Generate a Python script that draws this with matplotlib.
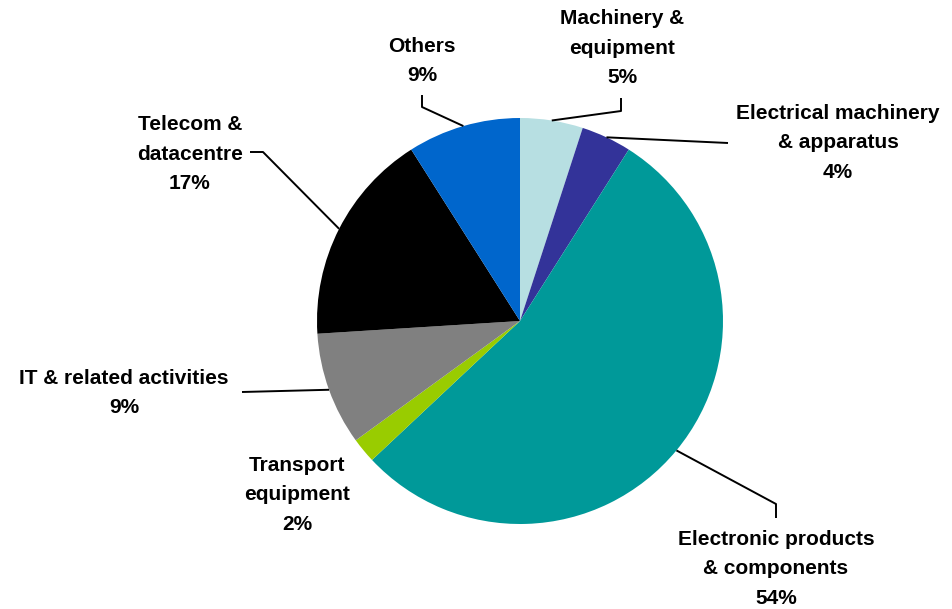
import numpy as np
import matplotlib
matplotlib.use("Agg")
import matplotlib.pyplot as plt

plt.rcParams['font.family'] = ['Liberation Sans', 'DejaVu Sans']

# Sector shares (%), clockwise from 12 o'clock
categories = ["Machinery &\nequipment", "Electrical machinery\n& apparatus",
              "Electronic products\n& components", "Transport\nequipment",
              "IT & related activities", "Telecom &\ndatacentre", "Others"]
shares = [5, 4, 54, 2, 9, 17, 9]
colors = ["#B7DFE2", "#333399", "#009999", "#99CC00", "#808080", "#000000", "#0066CC"]

W, H = 952, 609
fig = plt.figure(figsize=(W / 100, H / 100), dpi=100)
ax = fig.add_axes([0, 0, 1, 1])

cx, cy, R = 520, H - 321, 203
wedges, _ = ax.pie(shares, colors=colors, startangle=90, counterclock=False,
                   center=(cx, cy), radius=R, wedgeprops=dict(linewidth=0))

ax.set_xlim(0, W)
ax.set_ylim(0, H)
ax.set_aspect('auto')
ax.axis('off')

# Label block centres (pixel columns/rows from the top-left) and leader-line bends
label_pos = [(622, 48), (838, 143), (776, 569), (297, 495), (124, 393), (190, 154), (422, 61)]
leaders = [
    [(621, 111), (621, 98)],
    [(728, 143)],
    [(776, 504), (776, 518)],
    None,
    [(242, 392)],
    [(263, 152), (250, 152)],
    [(422, 107), (422, 95)],
]

for w, cat, val, (lx, ly), path in zip(wedges, categories, shares, label_pos, leaders):
    mid = np.deg2rad((w.theta1 + w.theta2) / 2)
    ax.text(lx, H - ly, f"{cat}\n{val}%", ha='center', va='center', fontsize=15,
            fontweight='bold', linespacing=1.72, color='black')
    if path is not None:
        sx, sy = cx + R * np.cos(mid), cy + R * np.sin(mid)
        xs = [sx] + [p[0] for p in path]
        ys = [sy] + [H - p[1] for p in path]
        ax.plot(xs, ys, color='black', linewidth=1.4, solid_capstyle='butt')

fig.savefig("out.png", dpi=100)
